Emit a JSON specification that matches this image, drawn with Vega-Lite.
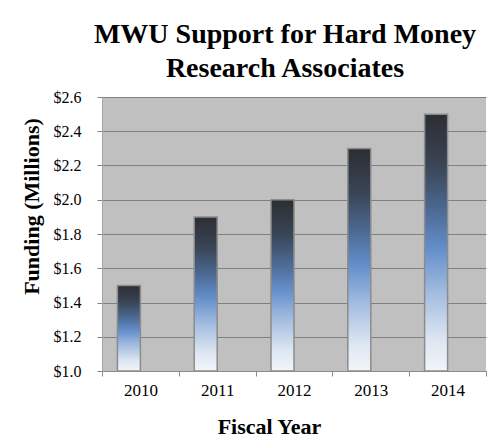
{
  "$schema": "https://vega.github.io/schema/vega-lite/v6.json",
  "width": 384,
  "height": 274,
  "autosize": {"type": "none"},
  "padding": {"left": 102, "top": 97, "right": 2, "bottom": 66},
  "background": "white",
  "title": {
    "text": ["MWU Support for Hard Money", "Research Associates"],
    "font": "'Liberation Serif', 'Times New Roman', serif",
    "fontSize": 28,
    "fontWeight": "bold",
    "color": "black",
    "lineHeight": 34,
    "anchor": "middle",
    "dx": -9,
    "offset": 6
  },
  "data": {
    "values": [
      {"year": "2010", "funding": 1.5, "base": 1.0, "series": "A"},
      {"year": "2011", "funding": 1.9, "base": 1.0, "series": "A"},
      {"year": "2012", "funding": 2.0, "base": 1.0, "series": "A"},
      {"year": "2013", "funding": 2.3, "base": 1.0, "series": "A"},
      {"year": "2014", "funding": 2.5, "base": 1.0, "series": "A"}
    ]
  },
  "mark": {
    "type": "bar",
    "stroke": "#8c8c8c",
    "strokeWidth": 1.5,
    "color": {
      "gradient": "linear",
      "x1": 0, "y1": 1, "x2": 0, "y2": 0,
      "stops": [
        {"offset": 0, "color": "#f2f5f9"},
        {"offset": 0.12, "color": "#dde6f2"},
        {"offset": 0.3, "color": "#a4bde0"},
        {"offset": 0.47, "color": "#6590cc"},
        {"offset": 0.62, "color": "#4d6b96"},
        {"offset": 0.8, "color": "#3a4556"},
        {"offset": 1, "color": "#2c2e33"}
      ]
    }
  },
  "encoding": {
    "x": {
      "field": "year",
      "type": "nominal",
      "scale": {"paddingInner": 0, "paddingOuter": 0},
      "axis": {
        "title": "Fiscal Year",
        "titleFont": "'Liberation Serif', 'Times New Roman', serif",
        "titleFontSize": 22,
        "titleFontWeight": "bold",
        "titleColor": "black",
        "titleX": 167,
        "titleY": 62,
        "titleBaseline": "alphabetic",
        "labelFont": "'Liberation Serif', 'Times New Roman', serif",
        "labelFontSize": 17,
        "labelColor": "black",
        "labelAngle": 0,
        "labelPadding": 6,
        "tickBand": "extent",
        "tickSize": 5,
        "tickColor": "#8c8c8c",
        "domainColor": "#8c8c8c",
        "grid": false
      }
    },
    "xOffset": {
      "field": "series",
      "type": "nominal",
      "scale": {"domain": ["A", "B"], "paddingInner": 0, "paddingOuter": 0.67}
    },
    "y": {
      "field": "funding",
      "type": "quantitative",
      "scale": {"domain": [1.0, 2.6], "nice": false, "zero": false},
      "axis": {
        "title": "Funding (Millions)",
        "titleFont": "'Liberation Serif', 'Times New Roman', serif",
        "titleFontSize": 22,
        "titleFontWeight": "bold",
        "titleColor": "black",
        "titleX": -64,
        "titleY": 109,
        "titleBaseline": "alphabetic",
        "values": [1.0, 1.2, 1.4, 1.6, 1.8, 2.0, 2.2, 2.4, 2.6],
        "format": "$.1f",
        "labelFont": "'Liberation Serif', 'Times New Roman', serif",
        "labelFontSize": 16,
        "labelColor": "black",
        "labelPadding": 16,
        "tickSize": 5,
        "tickColor": "#808080",
        "domainColor": "#a6a6a6",
        "grid": true,
        "gridColor": "#808080",
        "gridWidth": 1
      }
    },
    "y2": {"field": "base"}
  },
  "config": {
    "view": {"fill": "#c0c0c0", "stroke": null}
  }
}
